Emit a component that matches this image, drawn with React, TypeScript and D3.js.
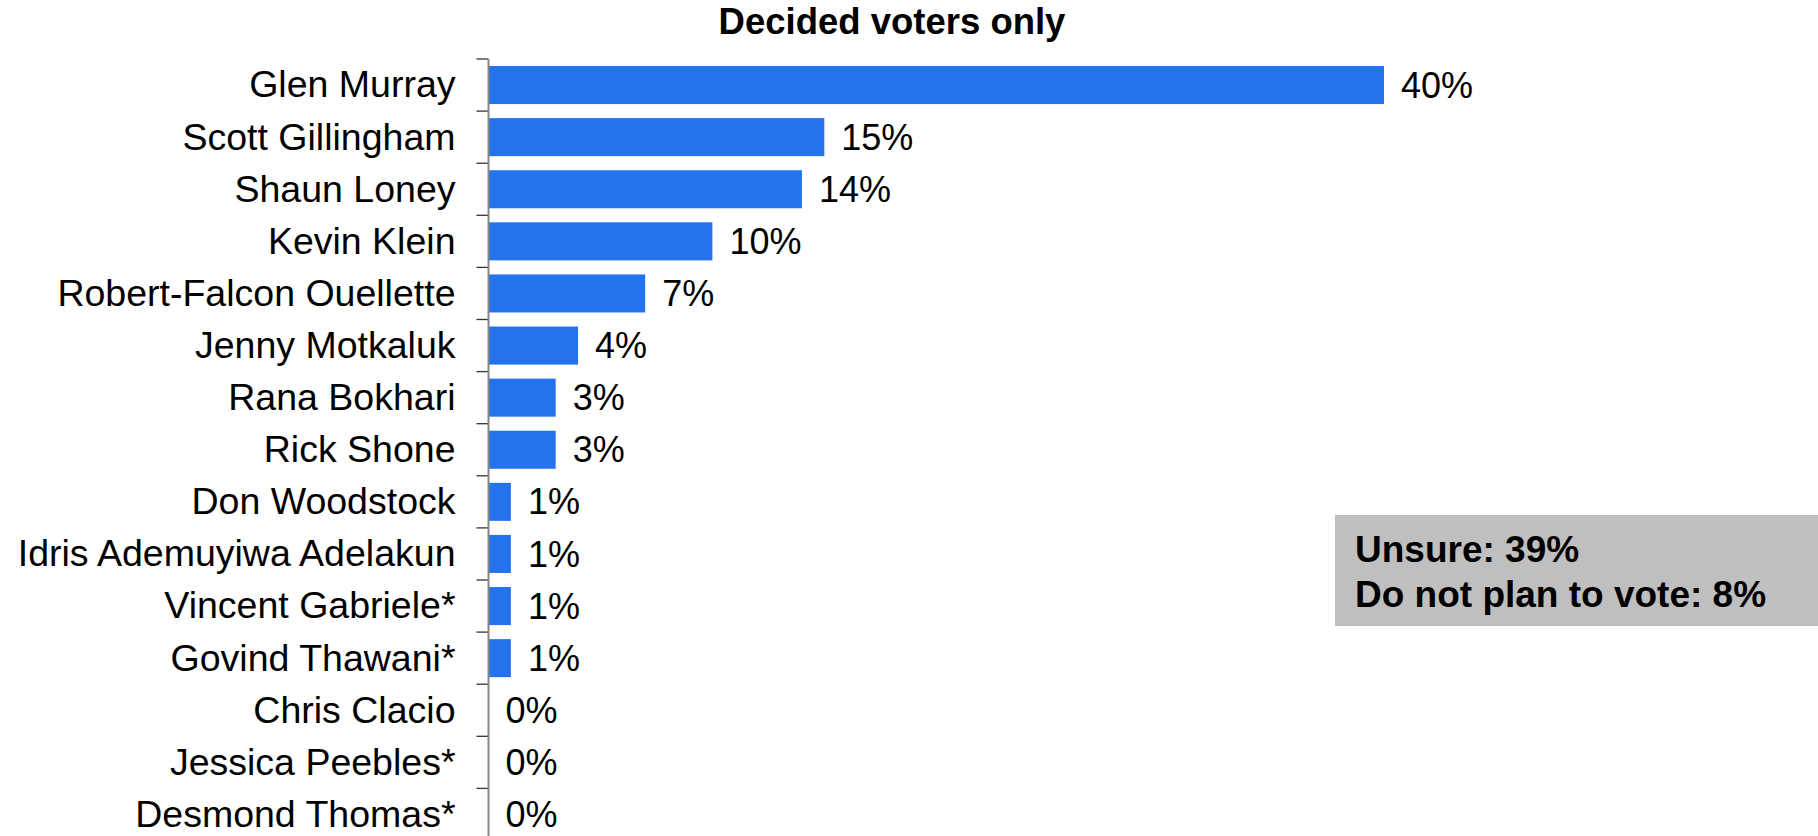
import React, { useEffect, useRef } from "react";
import * as d3 from "d3";

const candidates = [
  "Glen Murray",
  "Scott Gillingham",
  "Shaun Loney",
  "Kevin Klein",
  "Robert-Falcon Ouellette",
  "Jenny Motkaluk",
  "Rana Bokhari",
  "Rick Shone",
  "Don Woodstock",
  "Idris Ademuyiwa Adelakun",
  "Vincent Gabriele*",
  "Govind Thawani*",
  "Chris Clacio",
  "Jessica Peebles*",
  "Desmond Thomas*",
];
const shares = [40, 15, 14, 10, 7, 4, 3, 3, 1, 1, 1, 1, 0, 0, 0];
const title = "Decided voters only";
const noteLines = ["Unsure: 39%", "Do not plan to vote: 8%"];

const W = 1818;
const H = 836;
const FONT = "Arial, 'Liberation Sans', Helvetica, sans-serif";

export default function App() {
  const ref = useRef<SVGSVGElement>(null);

  useEffect(() => {
    const svg = d3.select(ref.current);
    svg.selectAll("*").remove();

    const axisX = 488.5;
    const top = 59;
    const step = 52.1;

    const x = d3.scaleLinear().domain([0, 40]).range([axisX, 1384]);
    const y = d3
      .scaleBand<string>()
      .domain(candidates)
      .range([top, top + step * candidates.length])
      .paddingInner(0.27)
      .paddingOuter(0.135);

    // title
    svg
      .append("text")
      .attr("x", 892)
      .attr("y", 34)
      .attr("text-anchor", "middle")
      .attr("font-family", FONT)
      .attr("font-weight", "bold")
      .attr("font-size", 36.5)
      .attr("fill", "#000")
      .text(title);

    // bars
    svg
      .append("g")
      .selectAll("rect")
      .data(shares)
      .join("rect")
      .attr("x", x(0))
      .attr("y", (_, i) => y(candidates[i])!)
      .attr("width", (d) => x(d) - x(0))
      .attr("height", y.bandwidth())
      .attr("fill", "#2372ee");

    // value labels
    svg
      .append("g")
      .selectAll("text")
      .data(shares)
      .join("text")
      .attr("x", (d) => x(d) + 17)
      .attr("y", (_, i) => y(candidates[i])! + y.bandwidth() / 2)
      .attr("dy", "0.35em")
      .attr("font-family", FONT)
      .attr("font-size", 36)
      .attr("fill", "#000")
      .text((d) => `${d}%`);

    // y axis
    const axis = d3.axisLeft(y).tickSize(0).tickPadding(33);
    const g = svg.append("g").attr("transform", `translate(${axisX},0)`).call(axis);
    g.select(".domain").remove();
    g.selectAll("text")
      .attr("font-family", FONT)
      .attr("font-size", 37.5)
      .attr("fill", "#000")
      .attr("dy", "0.33em");

    // boundary ticks
    const bounds = d3.range(candidates.length + 1).map((i) => top + i * y.step());
    svg
      .append("g")
      .selectAll("line")
      .data(bounds)
      .join("line")
      .attr("x1", axisX - 12)
      .attr("x2", axisX)
      .attr("y1", (d) => d)
      .attr("y2", (d) => d)
      .attr("stroke", "#333")
      .attr("stroke-width", 1.3);

    svg
      .append("line")
      .attr("x1", axisX)
      .attr("x2", axisX)
      .attr("y1", top)
      .attr("y2", H + 10)
      .attr("stroke", "#858585")
      .attr("stroke-width", 2);

    // note box
    const note = svg.append("g");
    note
      .append("rect")
      .attr("x", 1335)
      .attr("y", 515)
      .attr("width", W - 1335)
      .attr("height", 111)
      .attr("fill", "#bfbfbf");
    note
      .selectAll("text")
      .data(noteLines)
      .join("text")
      .attr("x", 1355)
      .attr("y", (_, i) => 561.5 + i * 45)
      .attr("font-family", FONT)
      .attr("font-weight", "bold")
      .attr("font-size", 37)
      .attr("fill", "#000")
      .text((d) => d);
  }, []);

  return (
    <div style={{ position: "absolute", left: 0, top: 0, width: W, height: H, overflow: "hidden", background: "#fff" }}>
      <svg ref={ref} width={W} height={H} style={{ display: "block" }} />
    </div>
  );
}
